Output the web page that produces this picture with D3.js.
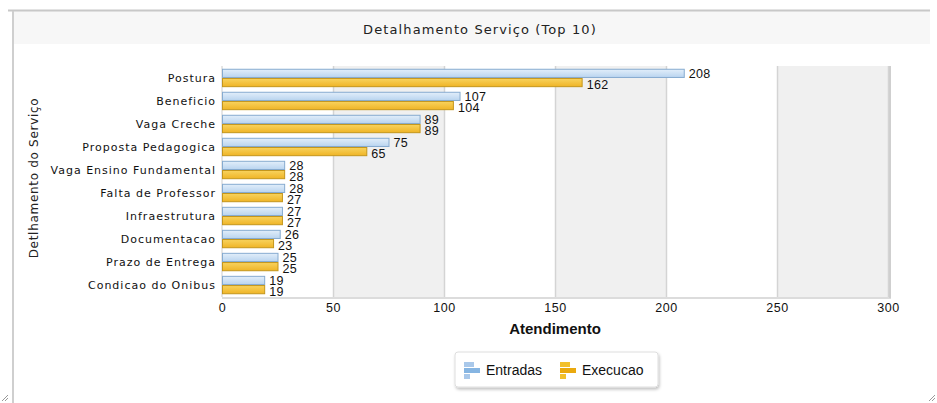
<!DOCTYPE html>
<html><head><meta charset="utf-8">
<script src="https://cdn.jsdelivr.net/npm/d3@7"></script>
<style>
html,body{margin:0;padding:0;background:#fff;}
svg{display:block;}
</style></head>
<body>
<svg id="chart" width="937" height="403"></svg>
<script>
const categories = ["Postura","Beneficio","Vaga Creche","Proposta Pedagogica","Vaga Ensino Fundamental","Falta de Professor","Infraestrutura","Documentacao","Prazo de Entrega","Condicao do Onibus"];
const entradas = [208,107,89,75,28,28,27,26,25,19];
const execucao = [162,104,89,65,28,27,27,23,25,19];
const seriesNames = ["Entradas","Execucao"];
const xTicks = [0,50,100,150,200,250,300];
const chartTitle = "Detalhamento Serviço (Top 10)";
const xTitle = "Atendimento";
const yTitle = "Detlhamento do Serviço";

(function(){
const svg = d3.select("#chart");
const defs = svg.append("defs");
const gb = defs.append("linearGradient").attr("id","gBlue").attr("x1",0).attr("y1",0).attr("x2",0).attr("y2",1);
gb.append("stop").attr("offset","0%").attr("stop-color","#e2eefa");
gb.append("stop").attr("offset","100%").attr("stop-color","#b9d4ef");
const go = defs.append("linearGradient").attr("id","gOrange").attr("x1",0).attr("y1",0).attr("x2",0).attr("y2",1);
go.append("stop").attr("offset","0%").attr("stop-color","#f8d35e");
go.append("stop").attr("offset","100%").attr("stop-color","#efb426");
const sh = defs.append("filter").attr("id","shadow").attr("x","-10%").attr("y","-20%").attr("width","130%").attr("height","160%");
sh.append("feDropShadow").attr("dx",1).attr("dy",2).attr("stdDeviation",1.5).attr("flood-color","#000").attr("flood-opacity",0.25);

// panel frame
svg.append("rect").attr("x",13).attr("y",11).attr("width",917).attr("height",33).attr("fill","#f7f7f7");
svg.append("line").attr("x1",8).attr("x2",930).attr("y1",10.5).attr("y2",10.5).attr("stroke","#c8c8c8").attr("stroke-width",2);
svg.append("line").attr("x1",13).attr("x2",13).attr("y1",11).attr("y2",403).attr("stroke","#cfcfcf").attr("stroke-width",2);
svg.append("text").attr("x",480).attr("y",34).attr("text-anchor","middle")
  .attr("font-family","DejaVu Sans").attr("font-size",13).attr("letter-spacing",1.1).attr("fill","#222").text(chartTitle);
// resize grips
const grip = svg.append("g").attr("stroke","#999").attr("stroke-width",1);
grip.append("line").attr("x1",2).attr("y1",401).attr("x2",8).attr("y2",395);
grip.append("line").attr("x1",5).attr("y1",401).attr("x2",8).attr("y2",398);
grip.append("line").attr("x1",929).attr("y1",401).attr("x2",935).attr("y2",395);
grip.append("line").attr("x1",932).attr("y1",401).attr("x2",935).attr("y2",398);

const pL = 222, pR = 888, pT = 66, pB = 297;
const x = d3.scaleLinear().domain([0,300]).range([pL,pR]);
const y = d3.scaleBand().domain(categories).range([pT,pB]).paddingInner(0.2).paddingOuter(0.12);
const ys = d3.scaleBand().domain(seriesNames).range([0,y.bandwidth()]);

// alternating bands
const g = svg.append("g");
for (let i=0;i<xTicks.length-1;i++){
  g.append("rect").attr("x",x(xTicks[i])).attr("y",pT).attr("width",x(xTicks[i+1])-x(xTicks[i])).attr("height",pB-pT)
    .attr("fill", i%2===1 ? "#f0f0f0" : "#ffffff");
}
g.selectAll("line.grid").data(xTicks.slice(1)).join("line").attr("class","grid")
  .attr("x1",d=>x(d)+0.5).attr("x2",d=>x(d)+0.5).attr("y1",pT).attr("y2",pB)
  .attr("stroke","#d4d4d4").attr("stroke-width",1.5);
g.append("line").attr("x1",pL).attr("x2",pR+3).attr("y1",pB+1).attr("y2",pB+1).attr("stroke","#dcdcdc").attr("stroke-width",2);
g.append("line").attr("x1",pR+2).attr("x2",pR+2).attr("y1",pT).attr("y2",pB+1).attr("stroke","#cfcfcf").attr("stroke-width",2);
g.append("line").attr("x1",pL).attr("x2",pL).attr("y1",pT).attr("y2",pB).attr("stroke","#cccccc").attr("stroke-width",1);

// bars
const rows = categories.map((c,i)=>({c, vals:[entradas[i],execucao[i]]}));
const row = svg.append("g").selectAll("g").data(rows).join("g").attr("transform",d=>`translate(0,${y(d.c)})`);
row.selectAll("rect").data(d=>d.vals.map((v,j)=>({v,s:seriesNames[j]}))).join("rect")
  .attr("x",x(0)+0.5).attr("y",d=>ys(d.s)+0.5)
  .attr("width",d=>x(d.v)-x(0)).attr("height",ys.bandwidth()-1)
  .attr("fill",d=>d.s==="Entradas"?"url(#gBlue)":"url(#gOrange)")
  .attr("stroke",d=>d.s==="Entradas"?"#86abd0":"#c4961c").attr("stroke-width",1);
row.selectAll("text").data(d=>d.vals.map((v,j)=>({v,s:seriesNames[j]}))).join("text")
  .attr("x",d=>x(d.v)+5)
  .attr("y",d=>ys(d.s)+ys.bandwidth()/2 + (d.s==="Entradas"?4.5:6))
  .attr("font-family","Liberation Sans").attr("font-size",12.5).attr("letter-spacing",0.3).attr("fill","#111").text(d=>d.v);

// y axis labels
svg.append("g").selectAll("text").data(categories).join("text")
  .attr("x",216).attr("y",d=>y(d)+y.bandwidth()/2+4)
  .attr("text-anchor","end").attr("font-family","DejaVu Sans").attr("font-size",11).attr("letter-spacing",1)
  .attr("fill","#111").text(d=>d);

// x axis
const xa = svg.append("g").attr("transform",`translate(0,${pB})`)
  .call(d3.axisBottom(x).tickValues(xTicks).tickSize(0).tickPadding(6));
xa.select(".domain").remove();
xa.selectAll("text").attr("font-family","Liberation Sans").attr("font-size",12.5).attr("letter-spacing",0.5).attr("fill","#111");

svg.append("text").attr("x",555).attr("y",334).attr("text-anchor","middle")
  .attr("font-family","Liberation Sans").attr("font-weight","bold").attr("font-size",15).attr("fill","#111").text(xTitle);
svg.append("text").attr("transform","translate(38,178) rotate(-90)").attr("text-anchor","middle")
  .attr("font-family","DejaVu Sans").attr("font-size",12).attr("letter-spacing",0.7).attr("fill","#222").text(yTitle);

// legend
const lg = svg.append("g");
lg.append("rect").attr("x",455).attr("y",352).attr("width",203).attr("height",35).attr("rx",3).attr("fill","#fff").attr("stroke","#dedede").attr("filter","url(#shadow)");
const items = lg.selectAll("g").data(seriesNames).join("g").attr("transform",(d,i)=>`translate(${i===0?464:560},361)`);
items.each(function(d){
  const it = d3.select(this);
  const c1 = d==="Entradas" ? "#a9c8ea" : "#f2c02c";
  const c2 = d==="Entradas" ? "#86b5e2" : "#eaa90e";
  it.append("rect").attr("x",0).attr("y",1).attr("width",10).attr("height",5).attr("fill",c1);
  it.append("rect").attr("x",0).attr("y",7).attr("width",16).attr("height",5).attr("fill",c2);
  it.append("rect").attr("x",0).attr("y",13).attr("width",6).attr("height",5).attr("fill",c1);
  it.append("text").attr("x",22).attr("y",14).attr("font-family","Liberation Sans").attr("font-size",14).attr("fill","#111").text(d);
});
})();
</script>
</body></html>
